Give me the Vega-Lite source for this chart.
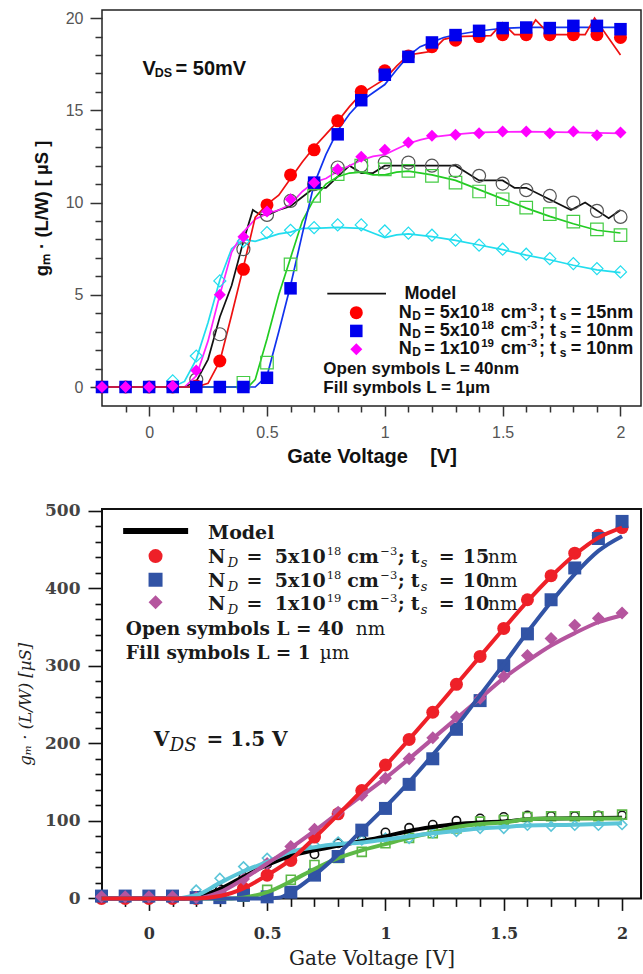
{
"$schema": "https://vega.github.io/schema/vega-lite/v6.json",
"background": "white",
"padding": {"left": 16, "top": 9, "right": 0, "bottom": 0},
"spacing": 103,
"bounds": "flush",
"datasets": {
"tl": [
{"v":-0.2,"g":0,"s":"k"},{"v":0.15,"g":0,"s":"k"},{"v":0.2,"g":0.3,"s":"k"},{"v":0.25,"g":1.5,"s":"k"},{"v":0.3,"g":3.8,"s":"k"},{"v":0.35,"g":5.5,"s":"k"},{"v":0.4,"g":7.9,"s":"k"},{"v":0.44,"g":9.6,"s":"k"},{"v":0.47,"g":9.35,"s":"k"},{"v":0.5,"g":9.3,"s":"k"},{"v":0.55,"g":9.6,"s":"k"},{"v":0.6,"g":9.8,"s":"k"},{"v":0.65,"g":10.3,"s":"k"},{"v":0.7,"g":10.8,"s":"k"},{"v":0.75,"g":10.8,"s":"k"},{"v":0.8,"g":11.4,"s":"k"},{"v":0.85,"g":12.0,"s":"k"},{"v":0.9,"g":11.6,"s":"k"},{"v":0.95,"g":11.6,"s":"k"},{"v":1.0,"g":12.0,"s":"k"},{"v":1.3,"g":12.0,"s":"k"},{"v":1.4,"g":11.2,"s":"k"},{"v":1.5,"g":11.2,"s":"k"},{"v":1.55,"g":10.8,"s":"k"},{"v":1.6,"g":10.8,"s":"k"},{"v":1.79,"g":9.6,"s":"k"},{"v":1.85,"g":10.0,"s":"k"},{"v":1.95,"g":9.15,"s":"k"},{"v":2.0,"g":9.6,"s":"k"},
{"v":-0.2,"g":0,"s":"g"},{"v":0.42,"g":0,"s":"g"},{"v":0.45,"g":0.4,"s":"g"},{"v":0.5,"g":2.6,"s":"g"},{"v":0.55,"g":5.0,"s":"g"},{"v":0.6,"g":7.0,"s":"g"},{"v":0.65,"g":9.0,"s":"g"},{"v":0.7,"g":10.2,"s":"g"},{"v":0.75,"g":11.0,"s":"g"},{"v":0.8,"g":11.4,"s":"g"},{"v":0.85,"g":11.6,"s":"g"},{"v":0.9,"g":11.65,"s":"g"},{"v":0.95,"g":11.5,"s":"g"},{"v":1.0,"g":11.5,"s":"g"},{"v":1.05,"g":11.65,"s":"g"},{"v":1.1,"g":11.7,"s":"g"},{"v":1.2,"g":11.5,"s":"g"},{"v":1.3,"g":11.2,"s":"g"},{"v":1.4,"g":10.7,"s":"g"},{"v":1.5,"g":10.2,"s":"g"},{"v":1.6,"g":9.7,"s":"g"},{"v":1.7,"g":9.25,"s":"g"},{"v":1.8,"g":8.85,"s":"g"},{"v":1.9,"g":8.5,"s":"g"},{"v":2.0,"g":8.35,"s":"g"},
{"v":-0.2,"g":0,"s":"c"},{"v":0.1,"g":0,"s":"c"},{"v":0.15,"g":0.3,"s":"c"},{"v":0.2,"g":1.5,"s":"c"},{"v":0.25,"g":3.5,"s":"c"},{"v":0.3,"g":5.8,"s":"c"},{"v":0.35,"g":7.5,"s":"c"},{"v":0.4,"g":8.0,"s":"c"},{"v":0.45,"g":7.9,"s":"c"},{"v":0.5,"g":8.1,"s":"c"},{"v":0.55,"g":8.3,"s":"c"},{"v":0.6,"g":8.4,"s":"c"},{"v":0.65,"g":8.6,"s":"c"},{"v":0.7,"g":8.6,"s":"c"},{"v":0.8,"g":8.65,"s":"c"},{"v":0.9,"g":8.6,"s":"c"},{"v":0.95,"g":8.35,"s":"c"},{"v":1.0,"g":8.1,"s":"c"},{"v":1.05,"g":8.25,"s":"c"},{"v":1.1,"g":8.3,"s":"c"},{"v":1.2,"g":8.15,"s":"c"},{"v":1.3,"g":7.95,"s":"c"},{"v":1.4,"g":7.7,"s":"c"},{"v":1.5,"g":7.45,"s":"c"},{"v":1.6,"g":7.15,"s":"c"},{"v":1.7,"g":6.9,"s":"c"},{"v":1.8,"g":6.6,"s":"c"},{"v":1.9,"g":6.35,"s":"c"},{"v":2.0,"g":6.2,"s":"c"},
{"v":-0.2,"g":0,"s":"m"},{"v":0.15,"g":0,"s":"m"},{"v":0.2,"g":0.6,"s":"m"},{"v":0.25,"g":2.5,"s":"m"},{"v":0.3,"g":5.0,"s":"m"},{"v":0.35,"g":7.3,"s":"m"},{"v":0.4,"g":8.4,"s":"m"},{"v":0.45,"g":9.1,"s":"m"},{"v":0.5,"g":9.4,"s":"m"},{"v":0.55,"g":9.6,"s":"m"},{"v":0.6,"g":9.9,"s":"m"},{"v":0.65,"g":10.6,"s":"m"},{"v":0.7,"g":11.1,"s":"m"},{"v":0.75,"g":11.3,"s":"m"},{"v":0.8,"g":11.7,"s":"m"},{"v":0.85,"g":12.0,"s":"m"},{"v":0.9,"g":12.3,"s":"m"},{"v":0.95,"g":12.5,"s":"m"},{"v":1.0,"g":12.6,"s":"m"},{"v":1.05,"g":12.9,"s":"m"},{"v":1.1,"g":13.2,"s":"m"},{"v":1.15,"g":13.4,"s":"m"},{"v":1.2,"g":13.55,"s":"m"},{"v":1.3,"g":13.7,"s":"m"},{"v":1.4,"g":13.8,"s":"m"},{"v":1.6,"g":13.85,"s":"m"},{"v":1.8,"g":13.8,"s":"m"},{"v":2.0,"g":13.75,"s":"m"},
{"v":-0.2,"g":0,"s":"b"},{"v":0.45,"g":0,"s":"b"},{"v":0.5,"g":0.6,"s":"b"},{"v":0.55,"g":3.0,"s":"b"},{"v":0.6,"g":5.5,"s":"b"},{"v":0.65,"g":8.3,"s":"b"},{"v":0.7,"g":11.0,"s":"b"},{"v":0.75,"g":12.6,"s":"b"},{"v":0.8,"g":13.9,"s":"b"},{"v":0.85,"g":14.8,"s":"b"},{"v":0.9,"g":15.5,"s":"b"},{"v":0.95,"g":15.95,"s":"b"},{"v":1.0,"g":16.4,"s":"b"},{"v":1.05,"g":17.2,"s":"b"},{"v":1.1,"g":17.95,"s":"b"},{"v":1.15,"g":18.45,"s":"b"},{"v":1.2,"g":18.7,"s":"b"},{"v":1.25,"g":18.95,"s":"b"},{"v":1.3,"g":19.1,"s":"b"},{"v":1.4,"g":19.3,"s":"b"},{"v":1.5,"g":19.45,"s":"b"},{"v":1.6,"g":19.5,"s":"b"},{"v":2.0,"g":19.5,"s":"b"},
{"v":-0.2,"g":0,"s":"r"},{"v":0.2,"g":0,"s":"r"},{"v":0.25,"g":0.2,"s":"r"},{"v":0.3,"g":1.4,"s":"r"},{"v":0.35,"g":3.9,"s":"r"},{"v":0.4,"g":6.5,"s":"r"},{"v":0.45,"g":9.2,"s":"r"},{"v":0.5,"g":9.9,"s":"r"},{"v":0.55,"g":10.4,"s":"r"},{"v":0.6,"g":11.3,"s":"r"},{"v":0.65,"g":12.2,"s":"r"},{"v":0.7,"g":13.0,"s":"r"},{"v":0.75,"g":13.7,"s":"r"},{"v":0.8,"g":14.4,"s":"r"},{"v":0.85,"g":15.2,"s":"r"},{"v":0.9,"g":15.9,"s":"r"},{"v":0.95,"g":16.3,"s":"r"},{"v":1.0,"g":16.7,"s":"r"},{"v":1.05,"g":17.4,"s":"r"},{"v":1.1,"g":18.0,"s":"r"},{"v":1.15,"g":18.1,"s":"r"},{"v":1.2,"g":18.2,"s":"r"},{"v":1.25,"g":18.85,"s":"r"},{"v":1.3,"g":19.0,"s":"r"},{"v":1.45,"g":19.05,"s":"r"},{"v":1.5,"g":19.75,"s":"r"},{"v":1.55,"g":19.1,"s":"r"},{"v":1.6,"g":19.1,"s":"r"},{"v":1.64,"g":19.9,"s":"r"},{"v":1.7,"g":19.1,"s":"r"},{"v":1.85,"g":19.1,"s":"r"},{"v":1.89,"g":20.0,"s":"r"},{"v":2.0,"g":18.0,"s":"r"}
],
"tp": [
{"v":-0.2,"g":0,"d":"a","L":"f"},{"v":-0.1,"g":0,"d":"a","L":"f"},{"v":0,"g":0,"d":"a","L":"f"},{"v":0.1,"g":0,"d":"a","L":"f"},{"v":0.2,"g":0.05,"d":"a","L":"f"},{"v":0.3,"g":1.41,"d":"a","L":"f"},{"v":0.4,"g":6.38,"d":"a","L":"f"},{"v":0.5,"g":9.87,"d":"a","L":"f"},{"v":0.6,"g":11.5,"d":"a","L":"f"},{"v":0.7,"g":12.86,"d":"a","L":"f"},{"v":0.8,"g":14.43,"d":"a","L":"f"},{"v":0.9,"g":16.02,"d":"a","L":"f"},{"v":1.0,"g":17.14,"d":"a","L":"f"},{"v":1.1,"g":17.95,"d":"a","L":"f"},{"v":1.2,"g":18.45,"d":"a","L":"f"},{"v":1.3,"g":18.8,"d":"a","L":"f"},{"v":1.4,"g":19.0,"d":"a","L":"f"},{"v":1.5,"g":19.1,"d":"a","L":"f"},{"v":1.6,"g":19.1,"d":"a","L":"f"},{"v":1.7,"g":19.1,"d":"a","L":"f"},{"v":1.8,"g":19.1,"d":"a","L":"f"},{"v":1.9,"g":19.1,"d":"a","L":"f"},{"v":2.0,"g":18.95,"d":"a","L":"f"},
{"v":-0.2,"g":0,"d":"b","L":"f"},{"v":-0.1,"g":0,"d":"b","L":"f"},{"v":0,"g":0,"d":"b","L":"f"},{"v":0.1,"g":0,"d":"b","L":"f"},{"v":0.2,"g":0,"d":"b","L":"f"},{"v":0.3,"g":0,"d":"b","L":"f"},{"v":0.4,"g":0,"d":"b","L":"f"},{"v":0.5,"g":0.5,"d":"b","L":"f"},{"v":0.6,"g":5.35,"d":"b","L":"f"},{"v":0.7,"g":11.08,"d":"b","L":"f"},{"v":0.8,"g":13.7,"d":"b","L":"f"},{"v":0.9,"g":15.55,"d":"b","L":"f"},{"v":1.0,"g":16.93,"d":"b","L":"f"},{"v":1.1,"g":17.9,"d":"b","L":"f"},{"v":1.2,"g":18.68,"d":"b","L":"f"},{"v":1.3,"g":19.08,"d":"b","L":"f"},{"v":1.4,"g":19.31,"d":"b","L":"f"},{"v":1.5,"g":19.46,"d":"b","L":"f"},{"v":1.6,"g":19.49,"d":"b","L":"f"},{"v":1.7,"g":19.46,"d":"b","L":"f"},{"v":1.8,"g":19.58,"d":"b","L":"f"},{"v":1.9,"g":19.58,"d":"b","L":"f"},{"v":2.0,"g":19.4,"d":"b","L":"f"},
{"v":-0.2,"g":0,"d":"c","L":"f"},{"v":-0.1,"g":0,"d":"c","L":"f"},{"v":0,"g":0,"d":"c","L":"f"},{"v":0.1,"g":0.05,"d":"c","L":"f"},{"v":0.2,"g":0.9,"d":"c","L":"f"},{"v":0.3,"g":5.0,"d":"c","L":"f"},{"v":0.4,"g":8.14,"d":"c","L":"f"},{"v":0.5,"g":9.51,"d":"c","L":"f"},{"v":0.6,"g":10.18,"d":"c","L":"f"},{"v":0.7,"g":11.08,"d":"c","L":"f"},{"v":0.8,"g":11.8,"d":"c","L":"f"},{"v":0.9,"g":12.48,"d":"c","L":"f"},{"v":1.0,"g":12.86,"d":"c","L":"f"},{"v":1.1,"g":13.25,"d":"c","L":"f"},{"v":1.2,"g":13.62,"d":"c","L":"f"},{"v":1.3,"g":13.67,"d":"c","L":"f"},{"v":1.4,"g":13.76,"d":"c","L":"f"},{"v":1.5,"g":13.85,"d":"c","L":"f"},{"v":1.6,"g":13.85,"d":"c","L":"f"},{"v":1.7,"g":13.76,"d":"c","L":"f"},{"v":1.8,"g":13.85,"d":"c","L":"f"},{"v":1.9,"g":13.65,"d":"c","L":"f"},{"v":2.0,"g":13.8,"d":"c","L":"f"},
{"v":0.2,"g":0.4,"d":"a","L":"o"},{"v":0.3,"g":2.86,"d":"a","L":"o"},{"v":0.4,"g":7.47,"d":"a","L":"o"},{"v":0.5,"g":9.33,"d":"a","L":"o"},{"v":0.6,"g":10.09,"d":"a","L":"o"},{"v":0.7,"g":11.0,"d":"a","L":"o"},{"v":0.8,"g":11.9,"d":"a","L":"o"},{"v":0.9,"g":12.0,"d":"a","L":"o"},{"v":1.0,"g":12.17,"d":"a","L":"o"},{"v":1.1,"g":12.17,"d":"a","L":"o"},{"v":1.2,"g":12.0,"d":"a","L":"o"},{"v":1.3,"g":11.72,"d":"a","L":"o"},{"v":1.4,"g":11.45,"d":"a","L":"o"},{"v":1.5,"g":11.03,"d":"a","L":"o"},{"v":1.6,"g":10.67,"d":"a","L":"o"},{"v":1.7,"g":10.36,"d":"a","L":"o"},{"v":1.8,"g":10.0,"d":"a","L":"o"},{"v":1.9,"g":9.55,"d":"a","L":"o"},{"v":2.0,"g":9.22,"d":"a","L":"o"},
{"v":0.4,"g":0.23,"d":"b","L":"o"},{"v":0.5,"g":1.32,"d":"b","L":"o"},{"v":0.6,"g":6.65,"d":"b","L":"o"},{"v":0.7,"g":10.36,"d":"b","L":"o"},{"v":0.8,"g":11.54,"d":"b","L":"o"},{"v":0.9,"g":12.0,"d":"b","L":"o"},{"v":1.0,"g":11.8,"d":"b","L":"o"},{"v":1.1,"g":11.72,"d":"b","L":"o"},{"v":1.2,"g":11.45,"d":"b","L":"o"},{"v":1.3,"g":11.08,"d":"b","L":"o"},{"v":1.4,"g":10.6,"d":"b","L":"o"},{"v":1.5,"g":10.18,"d":"b","L":"o"},{"v":1.6,"g":9.73,"d":"b","L":"o"},{"v":1.7,"g":9.37,"d":"b","L":"o"},{"v":1.8,"g":8.97,"d":"b","L":"o"},{"v":1.9,"g":8.55,"d":"b","L":"o"},{"v":2.0,"g":8.23,"d":"b","L":"o"},
{"v":0.1,"g":0.33,"d":"c","L":"o"},{"v":0.2,"g":1.68,"d":"c","L":"o"},{"v":0.3,"g":5.75,"d":"c","L":"o"},{"v":0.4,"g":7.9,"d":"c","L":"o"},{"v":0.5,"g":8.37,"d":"c","L":"o"},{"v":0.6,"g":8.5,"d":"c","L":"o"},{"v":0.7,"g":8.64,"d":"c","L":"o"},{"v":0.8,"g":8.79,"d":"c","L":"o"},{"v":0.9,"g":8.79,"d":"c","L":"o"},{"v":1.0,"g":8.46,"d":"c","L":"o"},{"v":1.1,"g":8.34,"d":"c","L":"o"},{"v":1.2,"g":8.23,"d":"c","L":"o"},{"v":1.3,"g":7.96,"d":"c","L":"o"},{"v":1.4,"g":7.69,"d":"c","L":"o"},{"v":1.5,"g":7.47,"d":"c","L":"o"},{"v":1.6,"g":7.2,"d":"c","L":"o"},{"v":1.7,"g":6.96,"d":"c","L":"o"},{"v":1.8,"g":6.69,"d":"c","L":"o"},{"v":1.9,"g":6.42,"d":"c","L":"o"},{"v":2.0,"g":6.24,"d":"c","L":"o"}
],
"tlegsym": [{"v":0.879,"g":4.03,"d":"a"},{"v":0.879,"g":3.04,"d":"b"},{"v":0.879,"g":2.05,"d":"c"}],
"tlegline": [{"v":0.756,"v2":1.005,"g":5.06}],
"tt": [
{"v":1.083,"g":4.79,"t":"Model"},
{"v":1.0586,"g":3.76,"t":"N"},{"v":1.1669,"g":3.76,"t":"= 5x10"},{"v":1.4923,"g":3.76,"t":"cm"},{"v":1.6543,"g":3.76,"t":"; t"},{"v":1.7885,"g":3.76,"t":"= 15nm"},
{"v":1.0586,"g":2.77,"t":"N"},{"v":1.1669,"g":2.77,"t":"= 5x10"},{"v":1.4923,"g":2.77,"t":"cm"},{"v":1.6543,"g":2.77,"t":"; t"},{"v":1.7885,"g":2.77,"t":"= 10nm"},
{"v":1.0586,"g":1.77,"t":"N"},{"v":1.1669,"g":1.77,"t":"= 1x10"},{"v":1.4923,"g":1.77,"t":"cm"},{"v":1.6543,"g":1.77,"t":"; t"},{"v":1.7885,"g":1.77,"t":"= 10nm"}
],
"tt2": [
{"v":0.739,"g":0.72,"t":"Open symbols L = 40nm"},{"v":0.739,"g":-0.33,"t":"Fill symbols L = 1µm"}
],
"tts": [
{"v":1.116,"g":3.76,"t":"D"},{"v":1.7421,"g":3.76,"t":"s"},
{"v":1.116,"g":2.77,"t":"D"},{"v":1.7421,"g":2.77,"t":"s"},
{"v":1.116,"g":1.8,"t":"D"},{"v":1.7421,"g":1.77,"t":"s"}
],
"ttp": [
{"v":1.4089,"g":3.76,"t":"18"},{"v":1.6034,"g":3.76,"t":"-3"},
{"v":1.4089,"g":2.77,"t":"18"},{"v":1.6034,"g":2.77,"t":"-3"},
{"v":1.4089,"g":1.77,"t":"19"},{"v":1.6034,"g":1.77,"t":"-3"}
],
"tbig": [{"v":-0.0285,"g":16.93,"t":"V"},{"v":0.112,"g":16.93,"t":"= 50mV"}],
"tbigs": [{"v":0.024,"g":16.93,"t":"DS"}],
"bl": [
{"v":-0.2,"g":0,"s":"k"},{"v":0.15,"g":0,"s":"k"},{"v":0.2,"g":2,"s":"k"},{"v":0.3,"g":12,"s":"k"},{"v":0.4,"g":28,"s":"k"},{"v":0.5,"g":43,"s":"k"},{"v":0.6,"g":55,"s":"k"},{"v":0.7,"g":62,"s":"k"},{"v":0.8,"g":68,"s":"k"},{"v":0.9,"g":74,"s":"k"},{"v":1.0,"g":80,"s":"k"},{"v":1.1,"g":87,"s":"k"},{"v":1.2,"g":92,"s":"k"},{"v":1.3,"g":96,"s":"k"},{"v":1.4,"g":98,"s":"k"},{"v":1.5,"g":99,"s":"k"},{"v":1.6,"g":102,"s":"k"},{"v":1.7,"g":103,"s":"k"},{"v":2.0,"g":104,"s":"k"},
{"v":-0.2,"g":0,"s":"g"},{"v":0.35,"g":0,"s":"g"},{"v":0.4,"g":1,"s":"g"},{"v":0.5,"g":8,"s":"g"},{"v":0.6,"g":22,"s":"g"},{"v":0.7,"g":38,"s":"g"},{"v":0.8,"g":52,"s":"g"},{"v":0.9,"g":62,"s":"g"},{"v":1.0,"g":70,"s":"g"},{"v":1.1,"g":78,"s":"g"},{"v":1.2,"g":85,"s":"g"},{"v":1.3,"g":92,"s":"g"},{"v":1.4,"g":96,"s":"g"},{"v":1.5,"g":98,"s":"g"},{"v":1.6,"g":102,"s":"g"},{"v":1.7,"g":103,"s":"g"},{"v":2.0,"g":103,"s":"g"},
{"v":-0.2,"g":0,"s":"c"},{"v":0.1,"g":0,"s":"c"},{"v":0.2,"g":4,"s":"c"},{"v":0.3,"g":20,"s":"c"},{"v":0.4,"g":35,"s":"c"},{"v":0.5,"g":47,"s":"c"},{"v":0.6,"g":60,"s":"c"},{"v":0.7,"g":66,"s":"c"},{"v":0.8,"g":70,"s":"c"},{"v":0.9,"g":72,"s":"c"},{"v":1.0,"g":76,"s":"c"},{"v":1.1,"g":80,"s":"c"},{"v":1.2,"g":84,"s":"c"},{"v":1.3,"g":87,"s":"c"},{"v":1.4,"g":90,"s":"c"},{"v":1.5,"g":92,"s":"c"},{"v":1.6,"g":94,"s":"c"},{"v":1.8,"g":95,"s":"c"},{"v":2.0,"g":97,"s":"c"},
{"v":-0.2,"g":0,"s":"m"},{"v":0.2,"g":0,"s":"m"},{"v":0.3,"g":8,"s":"m"},{"v":0.4,"g":25,"s":"m"},{"v":0.5,"g":45,"s":"m"},{"v":0.6,"g":65,"s":"m"},{"v":0.7,"g":87,"s":"m"},{"v":0.8,"g":110,"s":"m"},{"v":0.9,"g":132,"s":"m"},{"v":1.0,"g":155,"s":"m"},{"v":1.1,"g":180,"s":"m"},{"v":1.2,"g":206,"s":"m"},{"v":1.3,"g":232,"s":"m"},{"v":1.4,"g":258,"s":"m"},{"v":1.5,"g":284,"s":"m"},{"v":1.6,"g":306,"s":"m"},{"v":1.7,"g":326,"s":"m"},{"v":1.8,"g":342,"s":"m"},{"v":1.9,"g":356,"s":"m"},{"v":2.0,"g":365,"s":"m"},
{"v":-0.2,"g":0,"s":"b"},{"v":0.5,"g":0,"s":"b"},{"v":0.55,"g":1,"s":"b"},{"v":0.6,"g":8,"s":"b"},{"v":0.7,"g":30,"s":"b"},{"v":0.8,"g":57,"s":"b"},{"v":0.9,"g":88,"s":"b"},{"v":1.0,"g":118,"s":"b"},{"v":1.1,"g":150,"s":"b"},{"v":1.2,"g":185,"s":"b"},{"v":1.3,"g":222,"s":"b"},{"v":1.4,"g":262,"s":"b"},{"v":1.5,"g":302,"s":"b"},{"v":1.6,"g":343,"s":"b"},{"v":1.7,"g":382,"s":"b"},{"v":1.8,"g":418,"s":"b"},{"v":1.9,"g":448,"s":"b"},{"v":2.0,"g":467,"s":"b"},
{"v":-0.2,"g":0,"s":"r"},{"v":0.2,"g":0,"s":"r"},{"v":0.3,"g":3,"s":"r"},{"v":0.4,"g":13,"s":"r"},{"v":0.5,"g":30,"s":"r"},{"v":0.6,"g":50,"s":"r"},{"v":0.7,"g":78,"s":"r"},{"v":0.8,"g":108,"s":"r"},{"v":0.9,"g":139,"s":"r"},{"v":1.0,"g":171,"s":"r"},{"v":1.1,"g":205,"s":"r"},{"v":1.2,"g":240,"s":"r"},{"v":1.3,"g":276,"s":"r"},{"v":1.4,"g":312,"s":"r"},{"v":1.5,"g":348,"s":"r"},{"v":1.6,"g":383,"s":"r"},{"v":1.7,"g":415,"s":"r"},{"v":1.8,"g":443,"s":"r"},{"v":1.9,"g":465,"s":"r"},{"v":2.0,"g":478,"s":"r"}
],
"bp": [
{"v":-0.2,"g":0,"d":"a","L":"f"},{"v":-0.1,"g":0,"d":"a","L":"f"},{"v":0,"g":0,"d":"a","L":"f"},{"v":0.1,"g":0,"d":"a","L":"f"},{"v":0.2,"g":0,"d":"a","L":"f"},{"v":0.3,"g":3,"d":"a","L":"f"},{"v":0.4,"g":13,"d":"a","L":"f"},{"v":0.5,"g":30,"d":"a","L":"f"},{"v":0.6,"g":49,"d":"a","L":"f"},{"v":0.7,"g":79,"d":"a","L":"f"},{"v":0.8,"g":109,"d":"a","L":"f"},{"v":0.9,"g":139,"d":"a","L":"f"},{"v":1.0,"g":172,"d":"a","L":"f"},{"v":1.1,"g":205,"d":"a","L":"f"},{"v":1.2,"g":240,"d":"a","L":"f"},{"v":1.3,"g":276,"d":"a","L":"f"},{"v":1.4,"g":312,"d":"a","L":"f"},{"v":1.5,"g":348,"d":"a","L":"f"},{"v":1.6,"g":385,"d":"a","L":"f"},{"v":1.7,"g":416,"d":"a","L":"f"},{"v":1.8,"g":445,"d":"a","L":"f"},{"v":1.9,"g":468,"d":"a","L":"f"},{"v":2.0,"g":478,"d":"a","L":"f"},
{"v":-0.2,"g":3,"d":"b","L":"f"},{"v":-0.1,"g":3,"d":"b","L":"f"},{"v":0,"g":3,"d":"b","L":"f"},{"v":0.1,"g":3,"d":"b","L":"f"},{"v":0.2,"g":1,"d":"b","L":"f"},{"v":0.3,"g":1,"d":"b","L":"f"},{"v":0.4,"g":4,"d":"b","L":"f"},{"v":0.5,"g":2,"d":"b","L":"f"},{"v":0.6,"g":8,"d":"b","L":"f"},{"v":0.7,"g":30,"d":"b","L":"f"},{"v":0.8,"g":54,"d":"b","L":"f"},{"v":0.9,"g":88,"d":"b","L":"f"},{"v":1.0,"g":116,"d":"b","L":"f"},{"v":1.1,"g":147,"d":"b","L":"f"},{"v":1.2,"g":180,"d":"b","L":"f"},{"v":1.3,"g":218,"d":"b","L":"f"},{"v":1.4,"g":255,"d":"b","L":"f"},{"v":1.5,"g":300,"d":"b","L":"f"},{"v":1.6,"g":341,"d":"b","L":"f"},{"v":1.7,"g":385,"d":"b","L":"f"},{"v":1.8,"g":426,"d":"b","L":"f"},{"v":1.9,"g":464,"d":"b","L":"f"},{"v":2.0,"g":486,"d":"b","L":"f"},
{"v":-0.2,"g":2,"d":"c","L":"f"},{"v":-0.1,"g":2,"d":"c","L":"f"},{"v":0,"g":2,"d":"c","L":"f"},{"v":0.1,"g":2,"d":"c","L":"f"},{"v":0.2,"g":1,"d":"c","L":"f"},{"v":0.3,"g":8,"d":"c","L":"f"},{"v":0.4,"g":25,"d":"c","L":"f"},{"v":0.5,"g":45,"d":"c","L":"f"},{"v":0.6,"g":67,"d":"c","L":"f"},{"v":0.7,"g":89,"d":"c","L":"f"},{"v":0.8,"g":111,"d":"c","L":"f"},{"v":0.9,"g":133,"d":"c","L":"f"},{"v":1.0,"g":155,"d":"c","L":"f"},{"v":1.1,"g":180,"d":"c","L":"f"},{"v":1.2,"g":207,"d":"c","L":"f"},{"v":1.3,"g":234,"d":"c","L":"f"},{"v":1.4,"g":258,"d":"c","L":"f"},{"v":1.5,"g":286,"d":"c","L":"f"},{"v":1.6,"g":313,"d":"c","L":"f"},{"v":1.7,"g":335,"d":"c","L":"f"},{"v":1.8,"g":352,"d":"c","L":"f"},{"v":1.9,"g":361,"d":"c","L":"f"},{"v":2.0,"g":368,"d":"c","L":"f"},
{"v":0.2,"g":3,"d":"a","L":"o"},{"v":0.3,"g":12,"d":"a","L":"o"},{"v":0.4,"g":28,"d":"a","L":"o"},{"v":0.5,"g":44,"d":"a","L":"o"},{"v":0.6,"g":49,"d":"a","L":"o"},{"v":0.7,"g":57,"d":"a","L":"o"},{"v":0.8,"g":71,"d":"a","L":"o"},{"v":0.9,"g":76,"d":"a","L":"o"},{"v":1.0,"g":85,"d":"a","L":"o"},{"v":1.1,"g":91,"d":"a","L":"o"},{"v":1.2,"g":95,"d":"a","L":"o"},{"v":1.3,"g":100,"d":"a","L":"o"},{"v":1.4,"g":103,"d":"a","L":"o"},{"v":1.5,"g":105,"d":"a","L":"o"},{"v":1.6,"g":107,"d":"a","L":"o"},{"v":1.7,"g":106,"d":"a","L":"o"},{"v":1.8,"g":106,"d":"a","L":"o"},{"v":1.9,"g":107,"d":"a","L":"o"},{"v":2.0,"g":107,"d":"a","L":"o"},
{"v":0.4,"g":2,"d":"b","L":"o"},{"v":0.5,"g":11,"d":"b","L":"o"},{"v":0.6,"g":24,"d":"b","L":"o"},{"v":0.7,"g":43,"d":"b","L":"o"},{"v":0.8,"g":52,"d":"b","L":"o"},{"v":0.9,"g":60,"d":"b","L":"o"},{"v":1.0,"g":71,"d":"b","L":"o"},{"v":1.1,"g":78,"d":"b","L":"o"},{"v":1.2,"g":84,"d":"b","L":"o"},{"v":1.3,"g":90,"d":"b","L":"o"},{"v":1.4,"g":99,"d":"b","L":"o"},{"v":1.5,"g":101,"d":"b","L":"o"},{"v":1.6,"g":105,"d":"b","L":"o"},{"v":1.7,"g":106,"d":"b","L":"o"},{"v":1.8,"g":106,"d":"b","L":"o"},{"v":1.9,"g":106,"d":"b","L":"o"},{"v":2.0,"g":108,"d":"b","L":"o"},
{"v":0.1,"g":1,"d":"c","L":"o"},{"v":0.2,"g":11,"d":"c","L":"o"},{"v":0.3,"g":26,"d":"c","L":"o"},{"v":0.4,"g":41,"d":"c","L":"o"},{"v":0.5,"g":52,"d":"c","L":"o"},{"v":0.6,"g":62,"d":"c","L":"o"},{"v":0.7,"g":69,"d":"c","L":"o"},{"v":0.8,"g":73,"d":"c","L":"o"},{"v":0.9,"g":75,"d":"c","L":"o"},{"v":1.0,"g":78,"d":"c","L":"o"},{"v":1.1,"g":77,"d":"c","L":"o"},{"v":1.2,"g":84,"d":"c","L":"o"},{"v":1.3,"g":86,"d":"c","L":"o"},{"v":1.4,"g":90,"d":"c","L":"o"},{"v":1.5,"g":90,"d":"c","L":"o"},{"v":1.6,"g":94,"d":"c","L":"o"},{"v":1.7,"g":93,"d":"c","L":"o"},{"v":1.8,"g":94,"d":"c","L":"o"},{"v":1.9,"g":94,"d":"c","L":"o"},{"v":2.0,"g":95,"d":"c","L":"o"}
],
"blegsym": [{"v":0.0283,"g":441.3,"d":"a"},{"v":0.0283,"g":410.8,"d":"b"},{"v":0.0283,"g":381.9,"d":"c"}],
"blegline": [{"v":-0.1086,"v2":0.166,"g":473.5}],
"bt": [
{"v":0.2505,"g":462.8,"t":"Model"},
{"v":0.2505,"g":432.3,"t":"N"},{"v":0.4128,"g":432.3,"t":"="},{"v":0.5323,"g":432.3,"t":"5x10"},{"v":0.838,"g":432.3,"t":"cm"},{"v":1.052,"g":432.3,"t":";"},{"v":1.107,"g":432.3,"t":"t"},{"v":1.225,"g":432.3,"t":"="},{"v":1.3266,"g":432.3,"t":"15"},
{"v":0.2505,"g":401.3,"t":"N"},{"v":0.4128,"g":401.3,"t":"="},{"v":0.5323,"g":401.3,"t":"5x10"},{"v":0.838,"g":401.3,"t":"cm"},{"v":1.052,"g":401.3,"t":";"},{"v":1.107,"g":401.3,"t":"t"},{"v":1.225,"g":401.3,"t":"="},{"v":1.3266,"g":401.3,"t":"10"},
{"v":0.2505,"g":371.2,"t":"N"},{"v":0.4128,"g":371.2,"t":"="},{"v":0.5323,"g":371.2,"t":"1x10"},{"v":0.838,"g":371.2,"t":"cm"},{"v":1.052,"g":371.2,"t":";"},{"v":1.107,"g":371.2,"t":"t"},{"v":1.225,"g":371.2,"t":"="},{"v":1.3266,"g":371.2,"t":"10"}
],
"bt2": [
{"v":-0.0972,"g":339,"t":"Open symbols L = 40"},{"v":-0.0972,"g":308.5,"t":"Fill symbols L = 1"}
],
"btr": [
{"v":1.4333,"g":432.3,"t":"nm"},{"v":1.4333,"g":401.3,"t":"nm"},{"v":1.4333,"g":371.2,"t":"nm"},
{"v":0.8745,"g":339,"t":"nm"},{"v":0.7224,"g":308.5,"t":"µm"}
],
"bts": [
{"v":0.3338,"g":432.3,"t":"D"},{"v":1.149,"g":432.3,"t":"s"},
{"v":0.3338,"g":401.3,"t":"D"},{"v":1.149,"g":401.3,"t":"s"},
{"v":0.3338,"g":371.2,"t":"D"},{"v":1.149,"g":371.2,"t":"s"}
],
"btp": [
{"v":0.752,"g":432.3,"t":"18"},{"v":0.978,"g":432.3,"t":"−3"},
{"v":0.752,"g":401.3,"t":"18"},{"v":0.978,"g":401.3,"t":"−3"},
{"v":0.752,"g":371.2,"t":"19"},{"v":0.978,"g":371.2,"t":"−3"}
],
"bbig": [{"v":0.0211,"g":197,"t":"V"},{"v":0.2438,"g":197,"t":"= 1.5 V"}],
"bbigs": [{"v":0.0887,"g":197,"t":"DS"}]
},
"vconcat": [
{
"width": 539, "height": 396,
"view": {"stroke": "#222", "strokeWidth": 1.5},
"encoding": {
"x": {"field": "v", "type": "quantitative",
 "scale": {"domain": [-0.2, 2.087], "nice": false, "zero": false},
 "axis": {"values": [-0.1,0,0.1,0.2,0.3,0.4,0.5,0.6,0.7,0.8,0.9,1,1.1,1.2,1.3,1.4,1.5,1.6,1.7,1.8,1.9,2],
  "format": "~g", "labelExpr": "abs(datum.value*2-round(datum.value*2))<0.001 ? datum.label : ''",
  "domain": false, "grid": false, "tickColor": "#333", "tickWidth": 1.5,
  "tickSize": {"condition": {"test": "abs(datum.value*2-round(datum.value*2))<0.001", "value": 10}, "value": 6},
  "labelFont": "Liberation Sans", "labelFontSize": 16, "labelColor": "#555", "labelPadding": 8,
  "labelOverlap": false, "labelBound": false, "labelFlush": false,
  "title": "Gate Voltage\u00a0\u00a0\u00a0\u00a0[V]", "titleFont": "Liberation Sans", "titleFontSize": 20, "titleFontWeight": "bold", "titleColor": "#111",
  "titleY": 50, "titleBaseline": "middle"}},
"y": {"field": "g", "type": "quantitative",
 "scale": {"domain": [-1.03, 20.44], "nice": false, "zero": false},
 "axis": {"values": [0,1,2,3,4,5,6,7,8,9,10,11,12,13,14,15,16,17,18,19,20],
  "labelExpr": "datum.value % 5 === 0 ? datum.label : ''",
  "domain": false, "grid": false, "tickColor": "#333", "tickWidth": 1.5,
  "tickSize": {"condition": {"test": "datum.value % 5 === 0", "value": 12}, "value": 7},
  "labelFont": "Liberation Sans", "labelFontSize": 16, "labelColor": "#555", "labelPadding": 7,
  "labelOverlap": false, "labelBound": false, "labelFlush": false,
  "title": "gₘ · (L/W) [ µS ]", "titleFont": "Liberation Sans", "titleFontSize": 18.5, "titleFontWeight": "bold", "titleColor": "#111",
  "titleAngle": 270, "titleX": -61, "titleY": 198, "titleBaseline": "middle", "titleAlign": "center"}}
},
"layer": [
{"data": {"name": "tl"}, "mark": {"type": "line", "strokeWidth": 1.7},
 "encoding": {"color": {"field": "s", "type": "nominal", "legend": null,
  "scale": {"domain": ["k","g","c","m","b","r"], "range": ["#111111","#22cc22","#22ddee","#ff22ff","#1133ee","#ee1111"]}}}},
{"data": {"name": "tp"}, "transform": [{"filter": "datum.L == 'o'"}],
 "mark": {"type": "point", "filled": false, "strokeWidth": 1.2, "opacity": 1},
 "encoding": {
  "color": {"field": "d", "type": "nominal", "legend": null, "scale": {"domain": ["a","b","c"], "range": ["#555555","#44cc44","#22ddee"]}},
  "shape": {"field": "d", "type": "nominal", "legend": null, "scale": {"domain": ["a","b","c"], "range": ["circle","square","diamond"]}},
  "size": {"field": "d", "type": "ordinal", "legend": null, "scale": {"domain": ["a","b","c"], "range": [169,144,200]}}}},
{"data": {"name": "tp"}, "transform": [{"filter": "datum.L == 'f'"}],
 "mark": {"type": "point", "filled": true, "opacity": 1},
 "encoding": {
  "color": {"field": "d", "type": "nominal", "legend": null, "scale": {"domain": ["a","b","c"], "range": ["#ff0000","#0000ee","#ff00ff"]}},
  "shape": {"field": "d", "type": "nominal", "legend": null, "scale": {"domain": ["a","b","c"], "range": ["circle","square","diamond"]}},
  "size": {"field": "d", "type": "ordinal", "legend": null, "scale": {"domain": ["a","b","c"], "range": [169,144,210]}}}},
{"data": {"name": "tlegsym"},
 "mark": {"type": "point", "filled": true, "opacity": 1},
 "encoding": {
  "color": {"field": "d", "type": "nominal", "legend": null, "scale": {"domain": ["a","b","c"], "range": ["#ff0000","#0000ee","#ff00ff"]}},
  "shape": {"field": "d", "type": "nominal", "legend": null, "scale": {"domain": ["a","b","c"], "range": ["circle","square","diamond"]}},
  "size": {"field": "d", "type": "ordinal", "legend": null, "scale": {"domain": ["a","b","c"], "range": [169,144,210]}}}},
{"data": {"name": "tlegline"}, "mark": {"type": "rule", "color": "#111", "strokeWidth": 1.8},
 "encoding": {"x2": {"field": "v2"}}},
{"data": {"name": "tt"}, "mark": {"type": "text", "align": "left", "baseline": "alphabetic", "font": "Liberation Sans", "fontSize": 18, "fontWeight": "bold", "color": "#111"},
 "encoding": {"text": {"field": "t"}}},
{"data": {"name": "tt2"}, "mark": {"type": "text", "align": "left", "baseline": "alphabetic", "font": "Liberation Sans", "fontSize": 17, "fontWeight": "bold", "color": "#111"},
 "encoding": {"text": {"field": "t"}}},
{"data": {"name": "tts"}, "mark": {"type": "text", "align": "left", "baseline": "alphabetic", "font": "Liberation Sans", "fontSize": 12, "fontWeight": "bold", "color": "#111", "dy": 2.5},
 "encoding": {"text": {"field": "t"}}},
{"data": {"name": "ttp"}, "mark": {"type": "text", "align": "left", "baseline": "alphabetic", "font": "Liberation Sans", "fontSize": 11.5, "fontWeight": "bold", "color": "#111", "dy": -7},
 "encoding": {"text": {"field": "t"}}},
{"data": {"name": "tbig"}, "mark": {"type": "text", "align": "left", "baseline": "alphabetic", "font": "Liberation Sans", "fontSize": 20, "fontWeight": "bold", "color": "#111"},
 "encoding": {"text": {"field": "t"}}},
{"data": {"name": "tbigs"}, "mark": {"type": "text", "align": "left", "baseline": "alphabetic", "font": "Liberation Sans", "fontSize": 12.5, "fontWeight": "bold", "color": "#111", "dy": 2},
 "encoding": {"text": {"field": "t"}}}
],
"resolve": {"scale": {"color": "independent", "shape": "independent", "size": "independent"}}
},
{
"width": 539, "height": 389.4,
"view": {"stroke": "#111", "strokeWidth": 2},
"encoding": {
"x": {"field": "v", "type": "quantitative",
 "scale": {"domain": [-0.198, 2.08], "nice": false, "zero": false},
 "axis": {"values": [-0.1,0,0.1,0.2,0.3,0.4,0.5,0.6,0.7,0.8,0.9,1,1.1,1.2,1.3,1.4,1.5,1.6,1.7,1.8,1.9,2],
  "format": "~g", "labelExpr": "abs(datum.value*2-round(datum.value*2))<0.001 ? datum.label : ''",
  "domain": false, "grid": false, "tickColor": "#111", "tickWidth": 1.6,
  "tickSize": {"condition": {"test": "abs(datum.value*2-round(datum.value*2))<0.001", "value": 12}, "value": 8},
  "labelFont": "DejaVu Serif", "labelFontSize": 16, "labelFontWeight": "bold", "labelColor": "#333", "labelPadding": 15,
  "labelOverlap": false, "labelBound": false, "labelFlush": false,
  "title": "Gate Voltage [V]", "titleFont": "DejaVu Serif", "titleFontSize": 20, "titleFontWeight": "normal", "titleColor": "#222",
  "titleY": 60, "titleBaseline": "middle"}},
"y": {"field": "g", "type": "quantitative",
 "scale": {"domain": [0, 502], "nice": false, "zero": false},
 "axis": {"values": [0,20,40,60,80,100,120,140,160,180,200,220,240,260,280,300,320,340,360,380,400,420,440,460,480,500],
  "labelExpr": "datum.value % 100 === 0 ? datum.label : ''",
  "domain": false, "grid": false, "tickColor": "#111", "tickWidth": 1.6,
  "tickSize": {"condition": {"test": "datum.value % 100 === 0", "value": 14}, "value": 7},
  "labelFont": "DejaVu Serif", "labelFontSize": 17, "labelFontWeight": "bold", "labelColor": "#444", "labelPadding": 8,
  "labelOverlap": false, "labelBound": false, "labelFlush": false,
  "title": "gₘ · (L/W) [µS]", "titleFont": "DejaVu Serif", "titleFontSize": 16.5, "titleFontStyle": "italic", "titleFontWeight": "normal", "titleColor": "#222",
  "titleAngle": 270, "titleX": -77, "titleY": 194.7, "titleBaseline": "middle", "titleAlign": "center"}}
},
"layer": [
{"data": {"name": "bp"}, "transform": [{"filter": "datum.L == 'o'"}],
 "mark": {"type": "point", "filled": false, "strokeWidth": 1.6, "opacity": 1},
 "encoding": {
  "color": {"field": "d", "type": "nominal", "legend": null, "scale": {"domain": ["a","b","c"], "range": ["#111111","#5db846","#5bc5d8"]}},
  "shape": {"field": "d", "type": "nominal", "legend": null, "scale": {"domain": ["a","b","c"], "range": ["circle","square","diamond"]}},
  "size": {"field": "d", "type": "ordinal", "legend": null, "scale": {"domain": ["a","b","c"], "range": [70,90,120]}}}},
{"data": {"name": "bp"}, "transform": [{"filter": "datum.L == 'f'"}],
 "mark": {"type": "point", "filled": true, "opacity": 1},
 "encoding": {
  "color": {"field": "d", "type": "nominal", "legend": null, "scale": {"domain": ["a","b","c"], "range": ["#ee2028","#3153a5","#b5559e"]}},
  "shape": {"field": "d", "type": "nominal", "legend": null, "scale": {"domain": ["a","b","c"], "range": ["circle","square","diamond"]}},
  "size": {"field": "d", "type": "ordinal", "legend": null, "scale": {"domain": ["a","b","c"], "range": [169,169,240]}}}},
{"data": {"name": "bl"}, "mark": {"type": "line", "strokeWidth": 4, "interpolate": "monotone"},
 "encoding": {"color": {"field": "s", "type": "nominal", "legend": null,
  "scale": {"domain": ["k","g","c","m","b","r"], "range": ["#000000","#5db846","#5bc5d8","#b5559e","#3153a5","#ee2028"]}}}},
{"data": {"name": "blegsym"},
 "mark": {"type": "point", "filled": true, "opacity": 1},
 "encoding": {
  "color": {"field": "d", "type": "nominal", "legend": null, "scale": {"domain": ["a","b","c"], "range": ["#ee2028","#3153a5","#b5559e"]}},
  "shape": {"field": "d", "type": "nominal", "legend": null, "scale": {"domain": ["a","b","c"], "range": ["circle","square","diamond"]}},
  "size": {"field": "d", "type": "ordinal", "legend": null, "scale": {"domain": ["a","b","c"], "range": [196,196,260]}}}},
{"data": {"name": "blegline"}, "mark": {"type": "rule", "color": "#000", "strokeWidth": 6},
 "encoding": {"x2": {"field": "v2"}}},
{"data": {"name": "bt"}, "mark": {"type": "text", "align": "left", "baseline": "alphabetic", "font": "DejaVu Serif", "fontSize": 19, "fontWeight": "bold", "color": "#1a1a1a"},
 "encoding": {"text": {"field": "t"}}},
{"data": {"name": "bt2"}, "mark": {"type": "text", "align": "left", "baseline": "alphabetic", "font": "DejaVu Serif", "fontSize": 18.5, "fontWeight": "bold", "color": "#1a1a1a"},
 "encoding": {"text": {"field": "t"}}},
{"data": {"name": "btr"}, "mark": {"type": "text", "align": "left", "baseline": "alphabetic", "font": "DejaVu Serif", "fontSize": 18.5, "fontWeight": "normal", "color": "#1a1a1a"},
 "encoding": {"text": {"field": "t"}}},
{"data": {"name": "bts"}, "mark": {"type": "text", "align": "left", "baseline": "alphabetic", "font": "DejaVu Serif", "fontSize": 13, "fontStyle": "italic", "color": "#1a1a1a", "dy": 4},
 "encoding": {"text": {"field": "t"}}},
{"data": {"name": "btp"}, "mark": {"type": "text", "align": "left", "baseline": "alphabetic", "font": "DejaVu Serif", "fontSize": 11.5, "color": "#1a1a1a", "dy": -8},
 "encoding": {"text": {"field": "t"}}},
{"data": {"name": "bbig"}, "mark": {"type": "text", "align": "left", "baseline": "alphabetic", "font": "DejaVu Serif", "fontSize": 20, "fontWeight": "bold", "color": "#1a1a1a"},
 "encoding": {"text": {"field": "t"}}},
{"data": {"name": "bbigs"}, "mark": {"type": "text", "align": "left", "baseline": "alphabetic", "font": "DejaVu Serif", "fontSize": 18, "fontStyle": "italic", "color": "#1a1a1a", "dy": 5},
 "encoding": {"text": {"field": "t"}}}
],
"resolve": {"scale": {"color": "independent", "shape": "independent", "size": "independent"}}
}
]
}
